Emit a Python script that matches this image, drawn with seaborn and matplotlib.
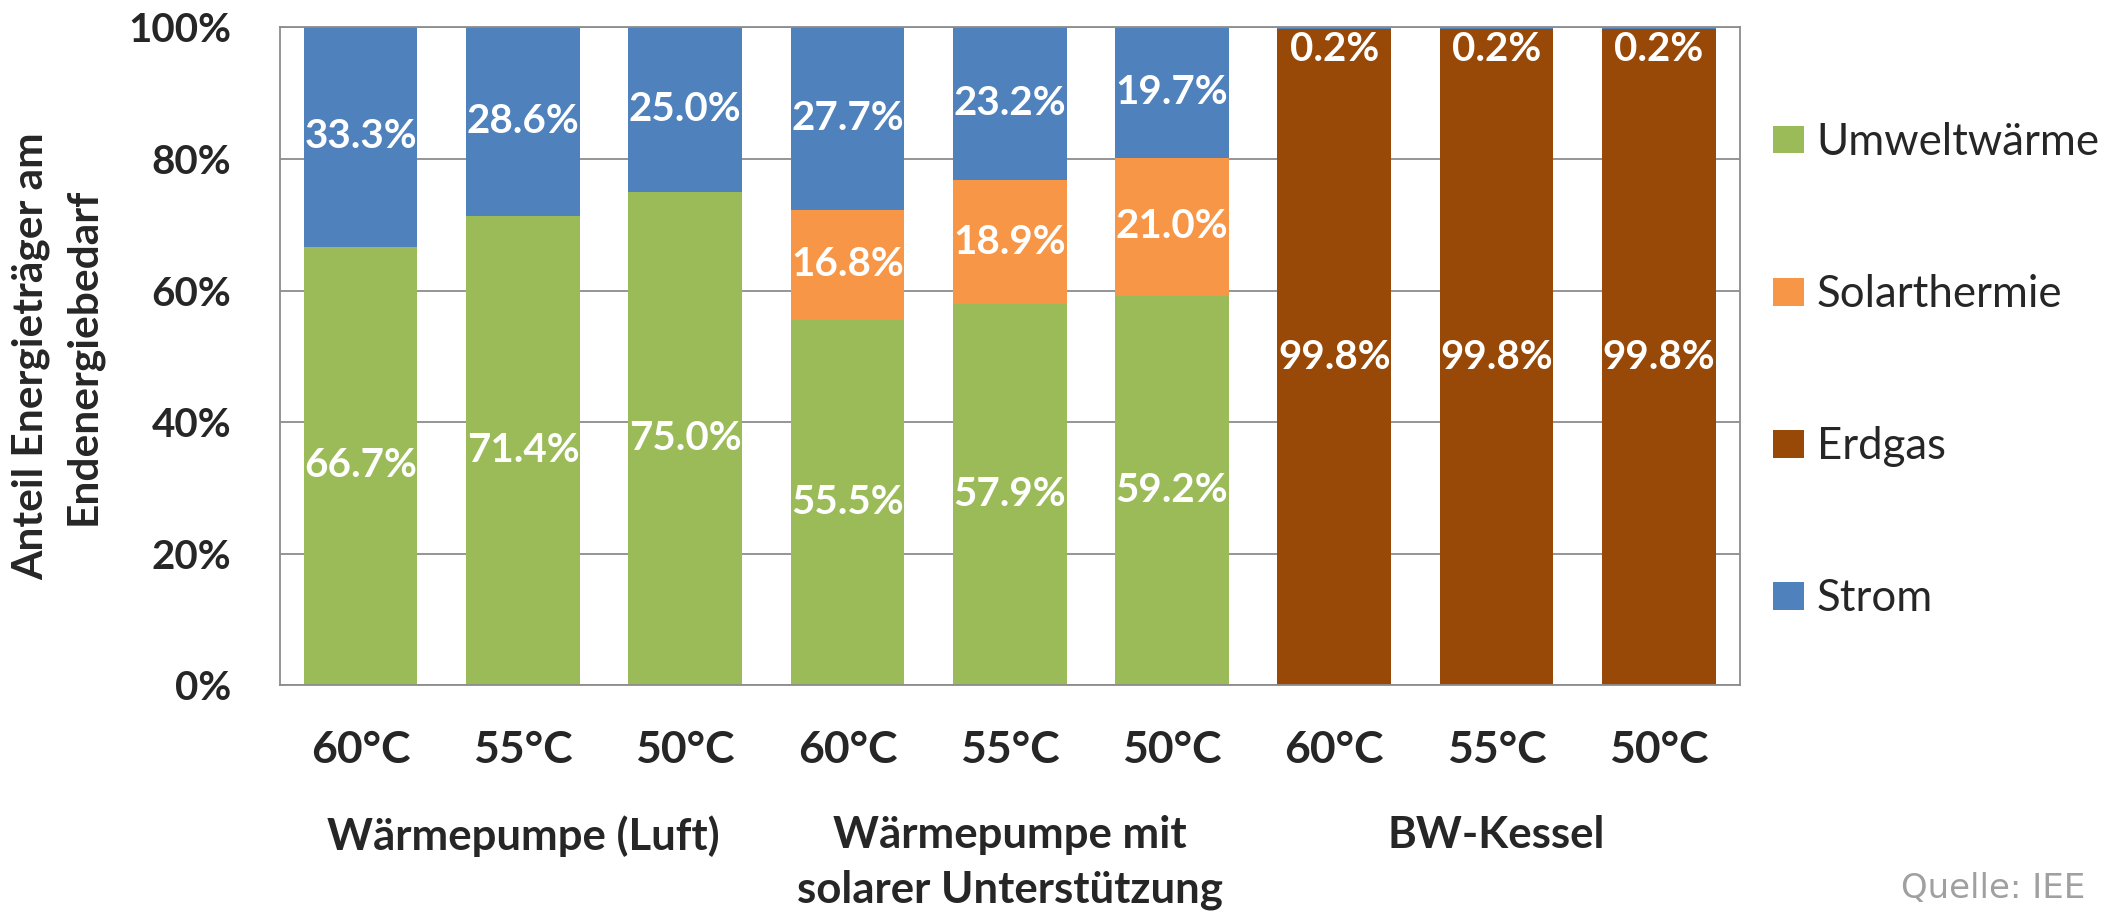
import pandas as pd
import matplotlib.pyplot as plt
import matplotlib.transforms as mtransforms
from matplotlib.patches import Patch
from matplotlib.ticker import StrMethodFormatter
import seaborn as sns

# data
groups = ['Wärmepumpe (Luft)', 'Wärmepumpe mit\nsolarer Unterstützung', 'BW-Kessel']
temps = ['60°C', '55°C', '50°C']
umweltwaerme = [66.7, 71.4, 75.0, 55.5, 57.9, 59.2, 0, 0, 0]
solarthermie = [0, 0, 0, 16.8, 18.9, 21.0, 0, 0, 0]
erdgas = [0, 0, 0, 0, 0, 0, 99.8, 99.8, 99.8]
strom = [33.3, 28.6, 25.0, 27.7, 23.2, 19.7, 0.2, 0.2, 0.2]

series = ['Umweltwärme', 'Solarthermie', 'Erdgas', 'Strom']
colors = ['#9BBB59', '#F79646', '#984807', '#4F81BD']

df = pd.DataFrame({
    'Umweltwärme': umweltwaerme,
    'Solarthermie': solarthermie,
    'Erdgas': erdgas,
    'Strom': strom,
})
df['slot'] = [g + ' ' + t for g in groups for t in temps]
cum = df[series].cumsum(axis=1)
cum['slot'] = df['slot']

sns.set_style('white')
plt.rcParams['font.family'] = ['Lato', 'DejaVu Sans']

fig = plt.figure(figsize=(21.18, 9.15), dpi=100)
ax = fig.add_axes([0.132, 0.251, 0.8215 - 0.132, 0.970 - 0.251])

# stacked bars: draw cumulative heights from the top layer down
for s, c in reversed(list(zip(series, colors))):
    heights = cum[[s, 'slot']].copy()
    heights[s] = heights[s].where(df[s] > 0)
    sns.barplot(data=heights, x='slot', y=s, color=c, saturation=1,
                width=0.7, errorbar=None, linewidth=0, ax=ax)

# value labels
for i in range(len(df)):
    bottom = 0
    for s in series:
        v = df[s][i]
        if v > 0:
            if v < 3:
                ax.annotate(f'{v:.1f}%', (i, 100), xytext=(0, -16),
                            textcoords='offset points', ha='center', va='center',
                            color='white', fontsize=29, fontweight='bold')
            else:
                ax.text(i, bottom + v / 2, f'{v:.1f}%', ha='center', va='center',
                        color='white', fontsize=29, fontweight='bold')
        bottom += v

ax.set_ylim(0, 100)
ax.set_xlim(-0.5, 8.5)
ax.set_yticks(range(0, 101, 20))
ax.yaxis.set_major_formatter(StrMethodFormatter('{x:.0f}%'))
ax.set_xticks(range(9))
ax.set_xticklabels(temps * 3)
ax.set_xlabel('')
ax.set_ylabel('')
ax.tick_params(axis='y', length=0, pad=35, labelsize=29)
ax.tick_params(axis='x', length=0, pad=32, labelsize=32)
for lab in ax.get_xticklabels() + ax.get_yticklabels():
    lab.set_fontweight('bold')

ax.yaxis.grid(True, color='#8c8c8c', lw=1.3)
ax.set_axisbelow(True)
for sp in ax.spines.values():
    sp.set_visible(True)
    sp.set_color('#8c8c8c')
    sp.set_linewidth(1.3)

# group labels below the temperature ticks
trans = mtransforms.blended_transform_factory(ax.transData, fig.transFigure)
for k, g in enumerate(groups):
    ax.text(1 + 3 * k, 1 - 815 / 915, g, transform=trans, ha='center', va='top',
            fontsize=31.5, fontweight='bold', linespacing=1.44)

fig.text(0.027, 0.611, 'Anteil Energieträger am\nEndenergiebedarf', rotation=90,
         ha='center', va='center', fontsize=30.5, fontweight='bold', linespacing=1.42)

handles = [Patch(facecolor=c, edgecolor='none') for c in colors]
ax.legend(handles, series, loc='upper left', bbox_to_anchor=(1773 / 2118, 1 - 122 / 915),
          bbox_transform=fig.transFigure, frameon=False, fontsize=31.5,
          handlelength=0.7, handleheight=0.6, handletextpad=0.3,
          labelspacing=2.54, borderpad=0, borderaxespad=0)

fig.text(2085 / 2118, 1 - 889 / 915, 'Quelle: IEE', ha='right', va='center',
         color='#a0a0a0', fontsize=24.5, family='DejaVu Sans')

fig.savefig('out.png', dpi=100)
